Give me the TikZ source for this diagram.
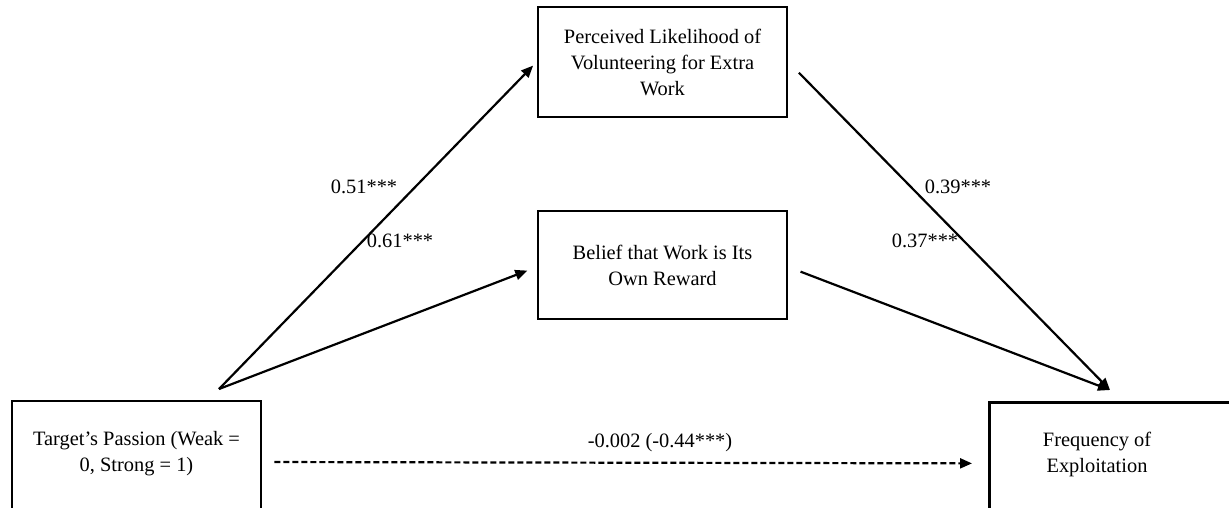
\documentclass[tikz,border=0pt]{standalone}
\usepackage{fontspec}
\setmainfont{Liberation Serif}
\usetikzlibrary{arrows.meta}

\tikzset{
  varbox/.style={draw, line width=2.8pt, align=center, inner sep=0pt},
  label/.style={align=center, inner sep=0pt},
  path/.style={line width=2.2pt, -{Triangle[length=12pt,width=10pt]}},
  direct/.style={path, dash pattern=on 6pt off 3pt},
  coef/.style={inner sep=0pt}
}

\begin{document}
\begin{tikzpicture}[x=1pt,y=-1pt,font=\fontsize{20.4}{26}\selectfont]
    \clip (0,0) rectangle (1229,507);
    % boxes
    \node[varbox, minimum width=249, minimum height=112] (pass) at (136.5,457) {};
    \node[label] at (136.5,454) {Target's Passion (Weak =\\0, Strong = 1)};
    \node[varbox, minimum width=249, minimum height=110] (lik) at (662.5,62) {Perceived Likelihood of\\Volunteering for Extra\\Work};
    \node[varbox, minimum width=249, minimum height=108] (bel) at (662.5,265) {};
    \node[label] at (662.5,265) {Belief that Work is Its\\Own Reward};
    \node[varbox, anchor=north west, minimum width=260, minimum height=120] (freq) at (988,401) {};
    \node[label] at (1097,454) {Frequency of\\Exploitation};
    \coordinate (src) at (219,389);
    \coordinate (snk) at (1110,390);
    % paths
    \draw[path, shorten >=5pt] (src) -- (lik.west);
    \draw[path, shorten >=10pt] (src) -- ([yshift=-2pt]bel.west);
    \draw[path, shorten <=15pt] (lik.east) -- (snk);
    \draw[path, shorten <=13pt] ([yshift=-2pt]bel.east) -- (snk);
    \draw[direct, shorten <=12pt, shorten >=16pt] ([yshift=-5pt]pass.east) -- ([yshift=-1pt]freq.west);
    % coefficients
    \node[coef] at (364,187) {0.51***};
    \node[coef] at (400,241) {0.61***};
    \node[coef] at (958,187) {0.39***};
    \node[coef] at (925,241) {0.37***};
    \node[coef] at (660,443) {-0.002 (-0.44***)};
\end{tikzpicture}
\end{document}
